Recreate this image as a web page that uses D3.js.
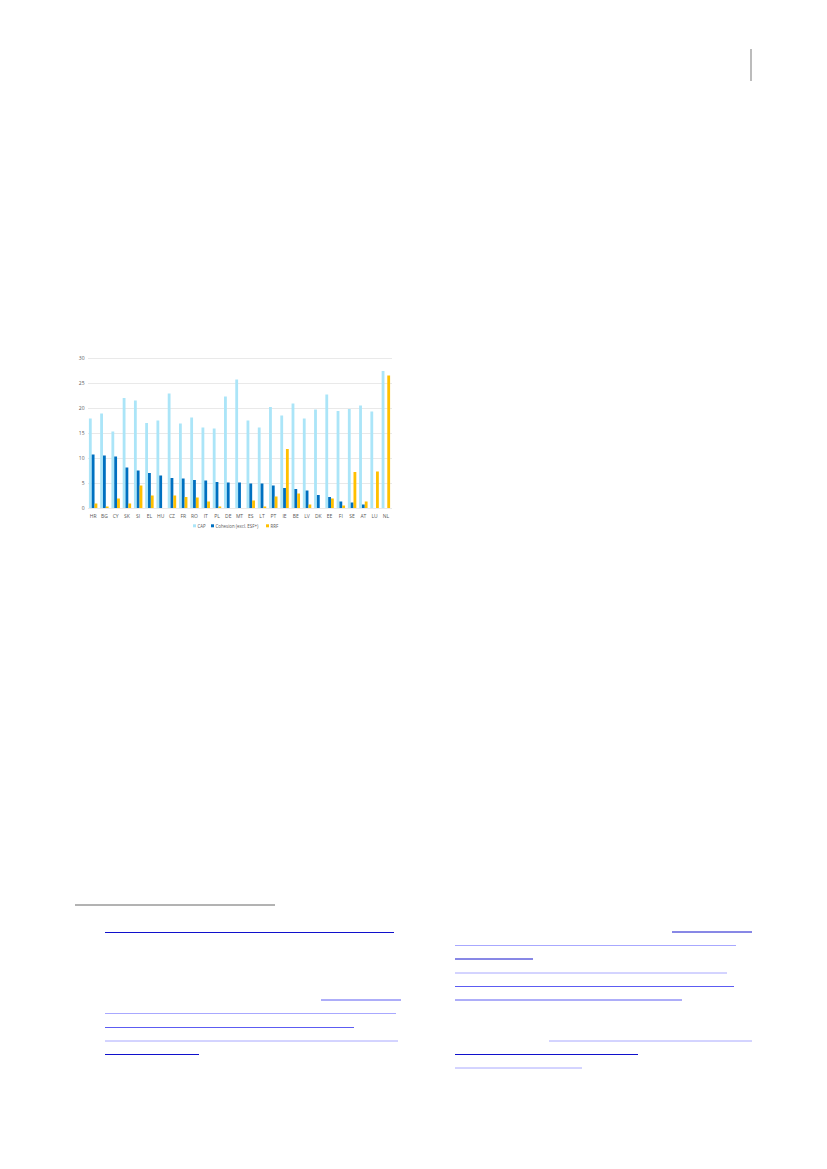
<!DOCTYPE html>
<html>
<head>
<meta charset="utf-8">
<script src="https://cdn.jsdelivr.net/npm/d3@7"></script>
<style>
  html, body { margin: 0; padding: 0; background: #fff; }
  svg { display: block; }
  .tick text { font-family: "Open Sans", "Liberation Sans", sans-serif; fill: #595959; }
</style>
</head>
<body>
<div id="chart"></div>
<script>
const PAGE_WIDTH = 827;
const PAGE_HEIGHT = 1169;

// data (share, %)
const countries = ["HR","BG","CY","SK","SI","EL","HU","CZ","FR","RO","IT","PL","DE","MT",
                   "ES","LT","PT","IE","BE","LV","DK","EE","FI","SE","AT","LU","NL"];
const seriesNames = ["CAP", "Cohesion (excl. ESF+)", "RRF"];
const capValues =      [17.9,18.9,15.3,22.0,21.5,17.0,17.5,22.9,16.9,18.1,16.1,15.9,22.3,25.7,
                        17.5,16.1,20.2,18.5,20.9,17.9,19.7,22.7,19.4,19.8,20.5,19.3,27.4];
const cohesionValues = [10.7,10.5,10.3,8.1,7.5,7.0,6.5,6.0,5.9,5.6,5.5,5.2,5.1,5.1,
                        4.9,4.9,4.5,4.0,3.8,3.5,2.6,2.2,1.3,1.1,0.7,0,0];
const rrfValues =      [0.9,0.3,1.9,0.9,4.5,2.5,0,2.5,2.2,2.1,1.3,0.3,0,0,
                        1.5,0.3,2.3,11.8,2.9,0.7,0,1.9,0.5,7.2,1.3,7.3,26.5];
const yTicks = [0, 5, 10, 15, 20, 25, 30];
const seriesColors = ["#abe5f8", "#0070c0", "#ffc000"];

// page decoration (separator, footnote link underlines)
const linkLines = [
  [105,394,932.5,"#1010cc"],[321,401,1000,"#5c5cf2"],[105,396,1013.5,"#a8a8ff"],
  [105,354,1027.5,"#5c5cf2"],[105,398,1041,"#a8a8ff"],[105,199,1054.5,"#1010cc"],
  [672,752,932,"#1010cc"],[455,736,945.5,"#a8a8ff"],[455,533,959,"#1010cc"],
  [455,727,973,"#a8a8ff"],[455,734,986.5,"#5c5cf2"],[455,682,1000,"#5c5cf2"],
  [549,752,1041,"#a8a8ff"],[455,638,1054.5,"#1010cc"],[455,582,1068,"#a8a8ff"]
];

let svg = d3.select("#chart").append("svg")
    .attr("width", PAGE_WIDTH)
    .attr("height", PAGE_HEIGHT);

// header rule
svg.append("line")
    .attr("x1", 751).attr("x2", 751).attr("y1", 49).attr("y2", 81)
    .attr("stroke", "#a6a6a6").attr("stroke-width", 1.5);

// footnote separator
svg.append("line")
    .attr("x1", 75).attr("x2", 275).attr("y1", 905).attr("y2", 905)
    .attr("stroke", "#666").attr("stroke-width", 1);

svg.append("g").classed("links", true)
  .selectAll("line").data(linkLines).enter()
  .append("line")
    .attr("x1", d => d[0]).attr("x2", d => d[1])
    .attr("y1", d => d[2]).attr("y2", d => d[2])
    .attr("stroke", d => d[3]).attr("stroke-width", 1);

// chart
let margin = {top: 358, left: 87.5};
let width = 304;
let height = 150;

let rows = countries.map((c, i) => ({
  country: c,
  values: [capValues[i], cohesionValues[i], rrfValues[i]]
}));

let x0 = d3.scaleBand().domain(countries).range([0, width]).paddingInner(0.25).paddingOuter(0.125);
let x1 = d3.scaleBand().domain(d3.range(seriesNames.length)).range([0, x0.bandwidth()]);
let yScale = d3.scaleLinear().domain([0, 30]).range([height, 0]);

let g = svg.append("g")
    .attr("transform", "translate(" + margin.left + "," + margin.top + ")");

// horizontal grid lines
g.append("g").classed("gridlines", true)
  .selectAll("line").data(yTicks).enter()
  .append("line")
    .attr("x1", 0).attr("x2", width)
    .attr("y1", d => yScale(d)).attr("y2", d => yScale(d))
    .attr("stroke", "#e3e3e3").attr("stroke-width", 0.8)
    .attr("shape-rendering", "crispEdges");

// y axis labels
let yAxis = d3.axisLeft(yScale).tickValues(yTicks).tickSize(0).tickPadding(3);
g.append("g").call(yAxis)
  .call(a => a.select(".domain").remove())
  .selectAll("text").attr("font-size", 5);

// bars
let groups = g.append("g").selectAll("g.country").data(rows).enter()
  .append("g").classed("country", true)
  .attr("transform", d => "translate(" + x0(d.country) + ",0)");
groups.selectAll("rect").data(d => d.values).enter()
  .append("rect")
    .attr("x", (d, i) => x1(i))
    .attr("width", x1.bandwidth())
    .attr("y", d => yScale(d))
    .attr("height", d => height - yScale(d))
    .attr("fill", (d, i) => seriesColors[i]);

// x axis labels
let xAxis = d3.axisBottom(x0).tickSize(0).tickPadding(6);
g.append("g")
    .attr("transform", "translate(0," + height + ")")
    .call(xAxis)
  .call(a => a.select(".domain").remove())
  .selectAll("text").attr("font-size", 5);

// legend
let legendX = [193, 211, 266];
let legend = svg.append("g").selectAll("g").data(seriesNames).enter()
  .append("g")
    .attr("transform", (d, i) => "translate(" + legendX[i] + ",527.5)");
legend.append("rect")
    .attr("x", 0).attr("y", -3.2).attr("width", 3).attr("height", 3)
    .attr("fill", (d, i) => seriesColors[i]);
legend.append("text")
    .attr("x", 4.5).attr("y", 0)
    .attr("font-family", "'Open Sans', 'Liberation Sans', sans-serif")
    .attr("font-size", 4.4)
    .attr("fill", "#595959")
    .text(d => d);
</script>
</body>
</html>
